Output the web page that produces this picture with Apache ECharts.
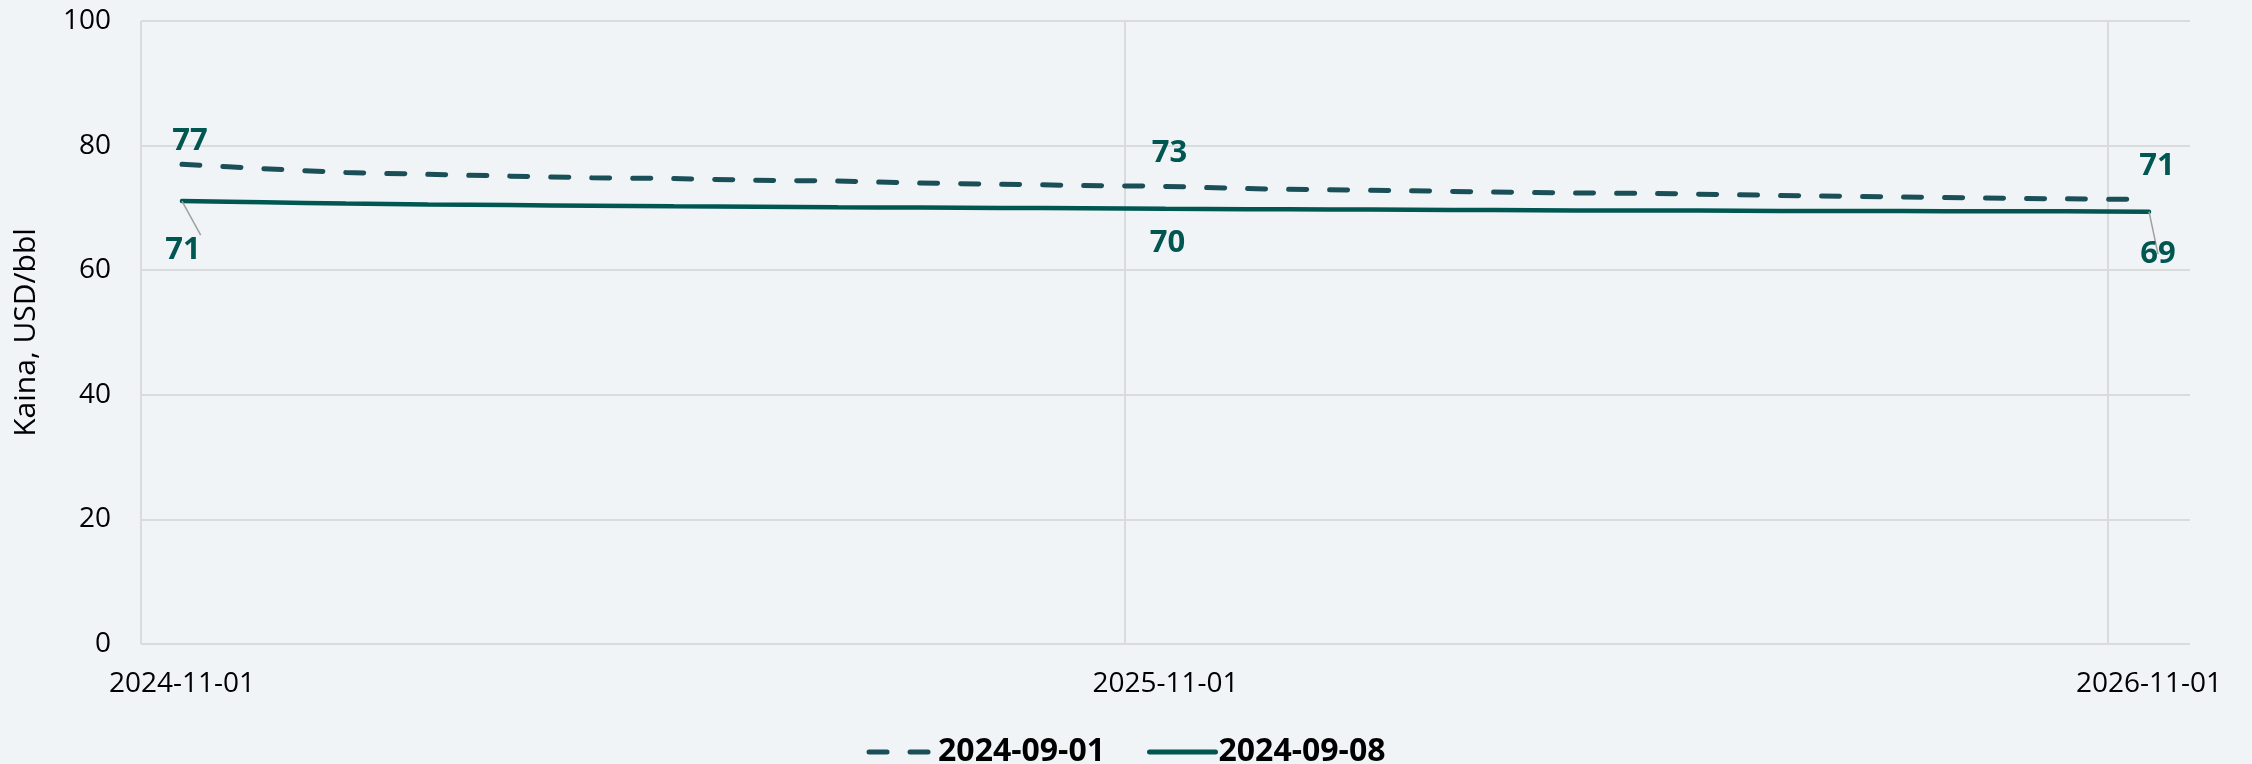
<!DOCTYPE html>
<html>
<head>
<meta charset="utf-8">
<script src="https://cdn.jsdelivr.net/npm/echarts@6/dist/echarts.min.js"></script>
<style>
  html, body { margin: 0; padding: 0; background: #f0f4f7; }
  #chart { width: 2252px; height: 764px; }
</style>
</head>
<body>
<div id="chart"></div>
<script>
// ---- Data ----
const categories = [
  '2024-11-01', '2024-12-01', '2025-01-01', '2025-02-01', '2025-03-01', '2025-04-01',
  '2025-05-01', '2025-06-01', '2025-07-01', '2025-08-01', '2025-09-01', '2025-10-01',
  '2025-11-01', '2025-12-01', '2026-01-01', '2026-02-01', '2026-03-01', '2026-04-01',
  '2026-05-01', '2026-06-01', '2026-07-01', '2026-08-01', '2026-09-01', '2026-10-01',
  '2026-11-01'
];
const seriesNames = ['2024-09-01', '2024-09-08'];
const values0901 = [77.0, 76.3, 75.7, 75.4, 75.1, 74.85, 74.7, 74.45, 74.3, 74.0, 73.8, 73.6,
  73.45, 73.1, 72.9, 72.75, 72.55, 72.4, 72.3, 72.1, 71.9, 71.75, 71.6, 71.45, 71.35];
const values0908 = [71.1, 70.9, 70.7, 70.55, 70.45, 70.35, 70.25, 70.2, 70.1, 70.05, 70.0, 69.95,
  69.85, 69.8, 69.75, 69.7, 69.65, 69.6, 69.6, 69.55, 69.5, 69.5, 69.45, 69.45, 69.4];
const labeledIdx = [0, 12, 24];
const yTicks = { min: 0, max: 100, interval: 20 };
const yAxisName = 'Kaina, USD/bbl';

// ---- Styling ----
const FONT = 'Open Sans';
const colDash = '#1b4f57';
const colSolid = '#005751';
const labelCol = '#005751';
const gridCol = '#d9dbdd';

// label placement per series/index (styles only)
const dashLabel = {
  0: { position: 'top', distance: 8, offset: [8, 0] },
  12: { position: 'top', distance: 18, offset: [4, 0] },
  24: { position: 'top', distance: 18, offset: [8, 0] }
};
const solidLabel = {
  0: { position: 'bottom', distance: 34, offset: [1, 0], line: true },
  12: { position: 'bottom', distance: 19, offset: [2, 0] },
  24: { position: 'bottom', distance: 27, offset: [9, 0], line: true }
};

function buildData(values, cfg) {
  return values.map((v, i) => {
    if (labeledIdx.indexOf(i) < 0) return v;
    const c = cfg[i];
    const item = {
      value: v,
      label: {
        show: true,
        position: c.position,
        distance: c.distance,
        offset: c.offset,
        formatter: (p) => String(Math.round(p.value)),
        color: labelCol,
        fontFamily: FONT,
        fontWeight: 'bold',
        fontSize: 31
      }
    };
    if (c.line) {
      item.labelLine = { show: true, lineStyle: { color: '#a0a0a0', width: 1.5 } };
    }
    return item;
  });
}

const chart = echarts.init(document.getElementById('chart'), null, { renderer: 'canvas' });
chart.setOption({
  backgroundColor: '#f0f4f7',
  animation: false,
  grid: { left: 141, right: 62, top: 21, bottom: 120, containLabel: false },
  legend: {
    data: seriesNames,
    left: 'center',
    top: 731,
    itemWidth: 66,
    itemHeight: 14,
    itemGap: 42,
    itemStyle: { opacity: 0 },
    lineStyle: { width: 5, cap: 'round' },
    textStyle: { fontFamily: FONT, fontSize: 32, fontWeight: 'bold', color: '#000', padding: [0, 0, 0, -2] }
  },
  xAxis: {
    type: 'category',
    data: categories,
    boundaryGap: true,
    axisLine: { show: false },
    axisTick: { show: false },
    axisLabel: {
      interval: 11,
      margin: 26,
      color: '#000',
      fontFamily: FONT,
      fontSize: 28
    },
    splitLine: {
      show: true,
      interval: 11,
      lineStyle: { color: [gridCol, gridCol, gridCol, 'rgba(0,0,0,0)'], width: 2 }
    }
  },
  yAxis: {
    type: 'value',
    min: yTicks.min,
    max: yTicks.max,
    interval: yTicks.interval,
    name: yAxisName,
    nameLocation: 'middle',
    nameGap: 100,
    nameTextStyle: { fontFamily: FONT, fontSize: 30, color: '#000' },
    axisLine: { show: false },
    axisTick: { show: false },
    axisLabel: { margin: 30, color: '#000', fontFamily: FONT, fontSize: 28 },
    splitLine: { show: true, lineStyle: { color: gridCol, width: 2 } }
  },
  series: [
    {
      name: seriesNames[0],
      type: 'line',
      data: buildData(values0901, dashLabel),
      smooth: 0.3,
      symbol: 'circle',
      symbolSize: 0,
      showSymbol: true,
      itemStyle: { color: colDash },
      lineStyle: { color: colDash, width: 5, type: [18, 23], cap: 'round' },
      z: 3
    },
    {
      name: seriesNames[1],
      type: 'line',
      data: buildData(values0908, solidLabel),
      smooth: 0.3,
      symbol: 'circle',
      symbolSize: 0,
      showSymbol: true,
      itemStyle: { color: colSolid },
      lineStyle: { color: colSolid, width: 4.5, cap: 'round' },
      z: 3
    }
  ]
});
</script>
</body>
</html>
